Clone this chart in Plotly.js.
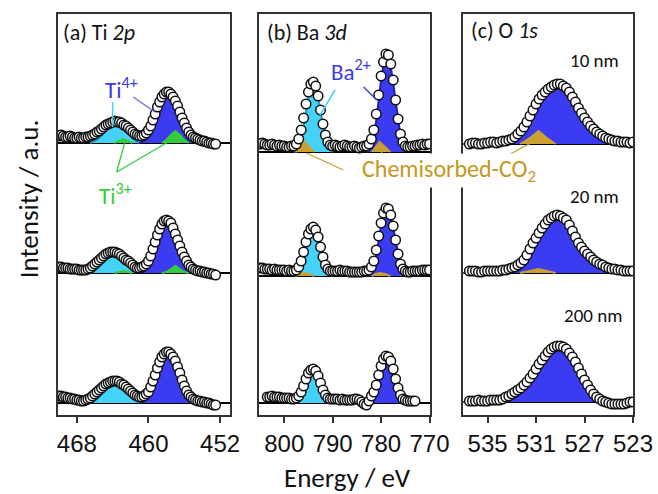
<!DOCTYPE html>
<html>
<head>
<meta charset="utf-8">
<script src="https://cdn.plot.ly/plotly-3.0.1.min.js"></script>
<style>
  html, body { margin: 0; padding: 0; background: #fff; }
  #chart { width: 658px; height: 494px; }
</style>
</head>
<body>
<div id="chart"></div>
<script>
// ---------- Ti 2p (binding energy in eV, intensity above each trace's baseline) ----------
const tiEnergy = [
  470, 469.75, 469.5, 469.25, 469, 468.75, 468.5, 468.25, 468, 467.75,
  467.5, 467.25, 467, 466.75, 466.5, 466.25, 466, 465.75, 465.5, 465.25,
  465, 464.75, 464.5, 464.25, 464, 463.75, 463.5, 463.25, 463, 462.75,
  462.5, 462.25, 462, 461.75, 461.5, 461.25, 461, 460.75, 460.5, 460.25,
  460, 459.75, 459.5, 459.25, 459, 458.75, 458.5, 458.25, 458, 457.75,
  457.5, 457.25, 457, 456.75, 456.5, 456.25, 456, 455.75, 455.5, 455.25,
  455, 454.75, 454.5, 454.25, 454, 453.75, 453.5, 453.25, 453, 452.75,
  452.5
];
const ti10nm = [
  7, 8, 7, 6, 6, 7, 6, 5, 5, 6,
  5, 5, 6, 6, 7, 8, 9, 11, 12, 14,
  16, 18, 19, 20, 21, 22, 21, 21, 20, 18,
  17, 15, 13, 11, 9, 8, 7, 7, 8, 10,
  13, 17, 23, 29, 36, 41, 46, 49, 51, 51,
  49, 46, 42, 37, 31, 25, 20, 15, 11, 8,
  6, 5, 4, 3, 2, 2, 1, 0, 0, -1,
  -1
];
const ti20nm = [
  6, 6, 5, 5, 5, 4, 4, 4, 4, 3,
  3, 3, 3, 4, 5, 7, 9, 11, 13, 15,
  17, 19, 20, 21, 21, 21, 20, 19, 17, 15,
  13, 12, 10, 8, 6, 5, 5, 6, 7, 9,
  12, 17, 24, 31, 38, 44, 49, 52, 53, 52,
  50, 45, 39, 33, 27, 21, 16, 12, 8, 6,
  4, 3, 2, 2, 1, 1, 0, 0, -1, -1,
  -2
];
const ti200nm = [
  7, 7, 6, 6, 5, 5, 4, 4, 3, 3,
  2, 2, 3, 4, 5, 7, 9, 11, 13, 15,
  17, 19, 20, 21, 22, 22, 22, 21, 19, 18,
  16, 14, 12, 10, 8, 7, 6, 6, 7, 9,
  11, 16, 22, 28, 35, 41, 46, 49, 51, 51,
  49, 46, 42, 36, 30, 23, 17, 12, 8, 6,
  4, 3, 2, 2, 1, 1, 0, 0, -1, -2,
  -2
];
const tiOffsets = [272, 142, 12];

// fitted components: Ti4+ 2p1/2, Ti4+ 2p3/2, Ti3+ 2p3/2, Ti3+ 2p1/2
const tiCompE_half = [466.5, 466, 465.5, 465, 464.5, 464, 463.5, 463, 462.5, 462, 461.5, 461];
const tiComp_half = [
  [0, 2, 5, 10, 15, 18, 18, 16, 11, 6, 2, 0],
  [0, 2, 6, 11, 16, 19, 20, 17, 12, 7, 3, 0],
  [0, 2, 6, 11, 17, 21, 21, 18, 13, 7, 3, 0]
];
const tiCompE_main = [461, 460.5, 460, 459.5, 459, 458.5, 458, 457.5, 457, 456.5, 456, 455.5, 455, 454.5];
const tiComp_main = [
  [0, 2, 7, 18, 32, 45, 51, 49, 41, 28, 15, 6, 2, 0],
  [0, 2, 8, 20, 35, 48, 53, 49, 38, 25, 13, 5, 1, 0],
  [0, 2, 7, 18, 32, 45, 52, 50, 41, 28, 14, 5, 1, 0]
];
const tiCompE_t3 = [458.5, 458, 457.5, 457, 456.5, 456, 455.5];
const tiComp_t3 = [
  [0, 3, 8, 12, 8, 3, 0],
  [0, 1, 4, 7, 4, 1, 0],
  null
];
const tiCompE_t3b = [463.8, 463.3, 462.8, 462.3, 461.8];
const tiComp_t3b = [
  [0, 2, 4, 2, 0],
  [0, 1, 2, 1, 0],
  null
];

// ---------- Ba 3d ----------
const baEnergy = [
  805, 804.5, 804, 803.5, 803, 802.5, 802, 801.5, 801, 800.5,
  800, 799.5, 799, 798.5, 798, 797.5, 797, 796.5, 796, 795.5,
  795, 794.5, 794, 793.5, 793, 792.5, 792, 791.5, 791, 790.5,
  790, 789.5, 789, 788.5, 788, 787.5, 787, 786.5, 786, 785.5,
  785, 784.5, 784, 783.5, 783, 782.5, 782, 781.5, 781, 780.5,
  780, 779.5, 779, 778.5, 778, 777.5, 777, 776.5, 776, 775.5,
  775, 774.5, 774, 773.5, 773, 772.5, 772, 771.5, 771, 770.5,
  770
];
const ba10nm = [
  8, 9, 8, 7, 7, 8, 7, 6, 7, 6,
  6, 5, 5, 6, 6, 8, 13, 22, 34, 48,
  60, 68, 70, 66, 56, 42, 28, 17, 10, 7,
  6, 7, 6, 5, 6, 7, 6, 5, 5, 6,
  5, 4, 5, 6, 6, 8, 13, 22, 38, 57,
  76, 90, 98, 97, 88, 72, 52, 33, 18, 10,
  6, 5, 5, 6, 6, 7, 7, 8, 7, 8,
  8
];
const ba20nm = [
  8, 8, 7, 7, 7, 6, 7, 6, 6, 6,
  6, 5, 6, 5, 5, 6, 9, 15, 24, 34,
  42, 47, 49, 46, 39, 29, 19, 11, 7, 5,
  5, 5, 5, 6, 5, 5, 5, 4, 4, 4,
  4, 4, 4, 5, 5, 6, 9, 15, 26, 40,
  53, 63, 68, 67, 61, 50, 36, 22, 12, 7,
  5, 4, 4, 5, 5, 5, 5, 6, 6, 6,
  6
];
const ba200nm = [
  null, null, null, 6, 6, 7, 6, 6, 6, 5,
  5, 5, 5, 4, 4, 5, 7, 11, 17, 24,
  30, 33, 34, 32, 27, 20, 13, 8, 5, 4,
  4, 4, 4, 3, 4, 3, 3, 3, 3, 4,
  4, 3, 1, -1, -2, 2, 7, 11, 18, 28,
  37, 44, 47, 46, 42, 34, 24, 15, 8, 4,
  3, 2, 2, 2, 2, null, null, null, null, null,
  null
];
const baOffsets = [263, 139, 12];

const baCompE_32 = [798, 797.5, 797, 796.5, 796, 795.5, 795, 794.5, 794, 793.5, 793, 792.5, 792, 791.5, 791, 790.5, 790];
const baComp_32 = [
  [0, 1, 4, 12, 25, 41, 56, 66, 70, 66, 55, 40, 25, 13, 5, 2, 0],
  [0, 1, 3, 8, 17, 28, 38, 44, 46, 44, 37, 27, 17, 9, 3, 1, 0],
  [0, 0, 2, 6, 12, 19, 26, 31, 33, 31, 26, 19, 12, 6, 2, 1, 0]
];
const baCompE_52 = [783, 782.5, 782, 781.5, 781, 780.5, 780, 779.5, 779, 778.5, 778, 777.5, 777, 776.5, 776, 775.5, 775, 774.5];
const baComp_52 = [
  [0, 2, 6, 15, 31, 52, 72, 87, 95, 94, 85, 69, 50, 31, 16, 7, 2, 0],
  [0, 1, 4, 10, 21, 36, 50, 61, 67, 66, 59, 48, 35, 21, 11, 5, 1, 0],
  [0, 1, 3, 7, 14, 24, 34, 42, 46, 45, 40, 32, 23, 14, 7, 3, 1, 0]
];
const baCO2E_a = [797.6, 796.7, 795.8, 794.9, 793.8];
const baCO2E_b = [781.9, 781.1, 780.3, 779.2, 778.1];
const baCO2 = [
  [0, 5, 10, 5, 0],
  [0, 2, 3, 2, 0],
  null
];

// ---------- O 1s ----------
const oEnergy = [
  536.5, 536.25, 536, 535.75, 535.5, 535.25, 535, 534.75, 534.5, 534.25,
  534, 533.75, 533.5, 533.25, 533, 532.75, 532.5, 532.25, 532, 531.75,
  531.5, 531.25, 531, 530.75, 530.5, 530.25, 530, 529.75, 529.5, 529.25,
  529, 528.75, 528.5, 528.25, 528, 527.75, 527.5, 527.25, 527, 526.75,
  526.5, 526.25, 526, 525.75, 525.5, 525.25, 525, 524.75, 524.5, 524.25,
  524, 523.75, 523.5, 523.25, 523
];
const o10nm = [
  0, 1, 1, 0, 0, 1, 1, 2, 2, 1,
  2, 3, 3, 4, 5, 7, 10, 13, 17, 22,
  28, 34, 40, 45, 49, 52, 55, 57, 59, 60,
  60, 58, 56, 52, 47, 42, 36, 31, 26, 22,
  18, 15, 12, 10, 8, 6, 5, 4, 3, 3,
  2, 2, 2, 1, 2
];
const o20nm = [
  2, 2, 2, 1, 1, 2, 2, 2, 2, 2,
  2, 3, 3, 4, 5, 6, 8, 10, 13, 18,
  24, 30, 35, 40, 45, 49, 53, 55, 57, 58,
  57, 55, 53, 48, 42, 36, 30, 26, 22, 19,
  16, 13, 11, 9, 8, 6, 5, 4, 4, 3,
  3, 2, 2, 2, 2
];
const o200nm = [
  1, 1, 1, 2, 1, 1, 1, 2, 2, 2,
  2, 3, 5, 6, 8, 10, 12, 14, 17, 20,
  24, 28, 33, 38, 42, 46, 50, 53, 55, 56,
  56, 55, 53, 49, 45, 40, 34, 28, 22, 17,
  12, 8, 5, 3, 1, 0, -1, -2, -2, -2,
  -2, -2, -1, 0, 0
];
const oOffsets = [271, 142, 13];

const oCompE_lat = [534, 533.5, 533, 532.5, 532, 531.5, 531, 530.5, 530, 529.5, 529, 528.5, 528, 527.5, 527, 526.5, 526, 525.5, 525, 524.5];
const oComp_lat = [
  [0, 1, 2, 7, 14, 26, 39, 48, 54, 58, 59, 54, 44, 33, 24, 16, 10, 5, 3, 0],
  [0, 1, 2, 6, 13, 24, 37, 46, 52, 56, 57, 52, 42, 31, 22, 14, 8, 4, 2, 0],
  [0, 1, 3, 6, 11, 17, 25, 35, 45, 53, 56, 52, 43, 32, 20, 10, 4, 1, 0, 0]
];
const oCO2E = [532.3, 531.5, 530.8, 530.1, 529.4];
const oCO2 = [
  [0, 6, 13, 6, 0],
  [0, 2, 4, 2, 0],
  null
];

const labelsThickness = ['10 nm', '20 nm', '200 nm'];

// ---------- styling ----------
const C_CYAN = '#45d2f8', C_CYAN_EDGE = '#1d9fcc';
const C_BLUE = '#3b3bf2', C_BLUE_EDGE = '#2020b8';
const C_GREEN = '#35cc3c';
const C_GOLD = '#c9a030', C_GOLD_TEXT = '#c4981c';
const C_ION = '#3a3ae6';
const SANS = 'Calibri, Carlito, Lato, sans-serif';
const FRAME = '#333';

const traces = [];

function component(xa, ya, energies, heights, offset, fillColor, edgeColor) {
  if (!heights) return;
  traces.push({
    type: 'scatter', mode: 'lines', xaxis: xa, yaxis: ya,
    x: energies, y: heights.map(h => offset + h),
    fill: 'toself', fillcolor: fillColor,
    line: { color: edgeColor, width: 2 },
    hoverinfo: 'skip', showlegend: false
  });
}

function spectrum(xa, ya, energies, values, offset) {
  traces.push({
    type: 'scatter', mode: 'markers', xaxis: xa, yaxis: ya,
    x: energies, y: values.map(v => v === null ? null : offset + v),
    marker: { symbol: 'circle', size: 9.5, color: '#fff', line: { color: '#111', width: 1.5 } },
    hoverinfo: 'skip', showlegend: false
  });
}

// Ti 2p
[ti10nm, ti20nm, ti200nm].forEach((s, i) => {
  const off = tiOffsets[i];
  component('x', 'y', tiCompE_half, tiComp_half[i], off, C_CYAN, C_CYAN_EDGE);
  component('x', 'y', tiCompE_main, tiComp_main[i], off, C_BLUE, C_BLUE_EDGE);
  component('x', 'y', tiCompE_t3, tiComp_t3[i], off, C_GREEN, C_GREEN);
  component('x', 'y', tiCompE_t3b, tiComp_t3b[i], off, C_GREEN, C_GREEN);
  spectrum('x', 'y', tiEnergy, s, off);
});

// Ba 3d
[ba10nm, ba20nm, ba200nm].forEach((s, i) => {
  const off = baOffsets[i];
  component('x2', 'y2', baCompE_32, baComp_32[i], off, C_CYAN, C_CYAN_EDGE);
  component('x2', 'y2', baCompE_52, baComp_52[i], off, C_BLUE, C_BLUE_EDGE);
  component('x2', 'y2', baCO2E_a, baCO2[i], off, C_GOLD, C_GOLD);
  component('x2', 'y2', baCO2E_b, baCO2[i], off, C_GOLD, C_GOLD);
  spectrum('x2', 'y2', baEnergy, s, off);
});

// O 1s
[o10nm, o20nm, o200nm].forEach((s, i) => {
  const off = oOffsets[i];
  component('x3', 'y3', oCompE_lat, oComp_lat[i], off, C_BLUE, C_BLUE_EDGE);
  component('x3', 'y3', oCO2E, oCO2[i], off, C_GOLD, C_GOLD);
  spectrum('x3', 'y3', oEnergy, s, off);
});

function xAxis(domain, range, ticks) {
  return {
    domain: domain, range: range, tickvals: ticks, ticktext: ticks.map(String),
    ticks: 'outside', ticklen: 6, tickwidth: 2, tickcolor: FRAME,
    showline: true, linecolor: FRAME, linewidth: 2, mirror: true,
    showgrid: false, zeroline: false,
    tickfont: { family: 'Liberation Sans, Arial, sans-serif', size: 24, color: '#111' }
  };
}
function yAxis(anchor) {
  return {
    anchor: anchor, domain: [0, 1], range: [0, 401],
    showticklabels: false, ticks: '',
    showline: true, linecolor: FRAME, linewidth: 2, mirror: true,
    showgrid: false, zeroline: false
  };
}

const shapes = [];
function baseline(xa, ya, off) {
  shapes.push({ type: 'line', layer: 'below', xref: xa + ' domain', yref: ya,
    x0: 0, x1: 1, y0: off, y1: off, line: { color: '#000', width: 2 } });
}
tiOffsets.forEach(o => baseline('x', 'y', o));
baOffsets.forEach(o => baseline('x2', 'y2', o));
oOffsets.forEach(o => baseline('x3', 'y3', o));

function pointer(xa, ya, x0, y0, x1, y1, color, width) {
  shapes.push({ type: 'line', xref: xa, yref: ya, x0: x0, y0: y0, x1: x1, y1: y1,
    line: { color: color, width: width || 1.3 } });
}
// Ti4+ / Ti3+ leaders
pointer('x', 'y', 464.0, 313, 464.0, 288, C_CYAN, 1.5);
pointer('x', 'y', 461.7, 318, 459.3, 303, '#6b6bd8', 1.3);
pointer('x', 'y', 463.55, 243, 462.6, 274, C_GREEN, 1.3);
pointer('x', 'y', 463.55, 243, 457.05, 277, C_GREEN, 1.3);
// Ba2+ leaders
pointer('x2', 'y2', 789.5, 325, 792.6, 300, C_CYAN, 1.5);
pointer('x2', 'y2', 783.6, 328, 780.9, 315, '#3a3ad0', 1.3);
// chemisorbed CO2 leaders
pointer('x2', 'y2', 787.8, 245, 795.4, 262, C_GOLD, 1.3);
pointer('x2', 'y2', 778.9, 253, 780.3, 267, C_GOLD, 1.3);
pointer('x3', 'y3', 533.6, 258, 530.8, 276, C_GOLD, 1.3);

const annotations = [];
function note(opts) {
  annotations.push(Object.assign({ showarrow: false }, opts));
}
// panel titles
note({ xref: 'x domain', yref: 'y domain', x: 0.02, y: 0.953, xanchor: 'left', yanchor: 'middle',
  text: '(a) Ti <i>2p</i>', font: { family: SANS, size: 22, color: '#111' } });
note({ xref: 'x2 domain', yref: 'y2 domain', x: 0.035, y: 0.953, xanchor: 'left', yanchor: 'middle',
  text: '(b) Ba <i>3d</i>', font: { family: SANS, size: 22, color: '#111' } });
note({ xref: 'x3 domain', yref: 'y3 domain', x: 0.035, y: 0.958, xanchor: 'left', yanchor: 'middle',
  text: '(c) O <i>1s</i>', font: { family: SANS, size: 22, color: '#111' } });
// species labels
note({ xref: 'x', yref: 'y', x: 463.0, y: 327, xanchor: 'center', yanchor: 'middle',
  text: 'Ti<sup>4+</sup>', font: { family: SANS, size: 23, color: C_ION } });
note({ xref: 'x', yref: 'y', x: 463.7, y: 221, xanchor: 'center', yanchor: 'middle',
  text: 'Ti<sup>3+</sup>', font: { family: SANS, size: 23, color: C_GREEN } });
note({ xref: 'x2', yref: 'y2', x: 786.2, y: 345, xanchor: 'center', yanchor: 'middle',
  text: 'Ba<sup>2+</sup>', font: { family: SANS, size: 23, color: C_ION } });
note({ xref: 'paper', yref: 'paper', x: 0.68, y: 0.61, xanchor: 'center', yanchor: 'middle',
  text: 'Chemisorbed-CO<sub>2</sub>', bgcolor: '#fff', borderpad: 0,
  font: { family: SANS, size: 24, color: C_GOLD_TEXT } });
// film thickness labels
[[0.932, 0.8835], [0.932, 0.546], [0.945, 0.249]].forEach((p, i) => {
  note({ xref: 'x3 domain', yref: 'y3 domain', x: p[0], y: p[1], xanchor: 'right', yanchor: 'middle',
    text: labelsThickness[i], font: { family: SANS, size: 19, color: '#111' } });
});
// axis titles
note({ xref: 'paper', yref: 'paper', x: 0.5043, y: -0.156, xanchor: 'center', yanchor: 'middle',
  text: 'Energy / eV', font: { family: SANS, size: 27, color: '#111' } });
note({ xref: 'paper', yref: 'paper', x: -0.05, y: 0.5387, xanchor: 'center', yanchor: 'middle',
  textangle: -90, text: 'Intensity / a.u.', font: { family: SANS, size: 27, color: '#111' } });

const layout = {
  width: 658, height: 494,
  margin: { l: 58, r: 25, t: 14, b: 79 },
  paper_bgcolor: '#fff', plot_bgcolor: '#fff',
  showlegend: false,
  xaxis: Object.assign(xAxis([0, 0.2991], [470.1, 450.9], [468, 460, 452]), { anchor: 'y' }),
  xaxis2: Object.assign(xAxis([0.3496, 0.647], [805.2, 769.9], [800, 790, 780, 770]), { anchor: 'y2' }),
  xaxis3: Object.assign(xAxis([0.7049, 1], [537, 523], [535, 531, 527, 523]), { anchor: 'y3' }),
  yaxis: yAxis('x'),
  yaxis2: yAxis('x2'),
  yaxis3: yAxis('x3'),
  shapes: shapes,
  annotations: annotations
};

Plotly.newPlot('chart', traces, layout, { staticPlot: true, displayModeBar: false });
</script>
</body>
</html>
